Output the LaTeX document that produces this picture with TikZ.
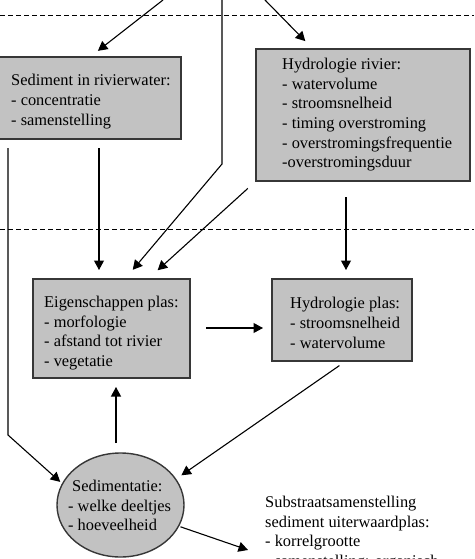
\documentclass[tikz,border=0pt]{standalone}
\usepackage{fontspec}
\setmainfont{Liberation Serif}
\usetikzlibrary{arrows.meta,calc,shapes.geometric}
\definecolor{boxfill}{RGB}{194,194,194}
\definecolor{boxline}{RGB}{55,55,55}
\tikzset{
  box/.style={draw=boxline,line width=1.4pt,fill=boxfill,inner sep=0pt,outer sep=0pt,anchor=north west},
  txt/.style={align=left,inner sep=0pt,anchor=west,font=\fontsize{16.4}{19.7}\selectfont},
  arr/.style={line width=1.1pt,-{Triangle[length=9.5pt,width=10pt]}},
  sep/.style={line width=1pt,dash pattern=on 5pt off 3pt},
}
\begin{document}
\begin{tikzpicture}[x=1pt,y=-1pt]
\useasboundingbox (0,0) rectangle (474,559);
% separators
\draw[sep] (0,16) -- (474,16);
\draw[sep] (0,229) -- (474,229);
% boxes
\node[box,minimum width=182pt,minimum height=82pt] (sed) at (-1,57) {};
\node[txt] (sedT) at ($(sed.north west)+(12,44.7)$) {Sediment in rivierwater:\\- concentratie\\- samenstelling};
\node[box,minimum width=214pt,minimum height=132pt] (hr) at (256,49) {};
\node[txt] (hrT) at ($(hr.north west)+(26,65.7)$) {Hydrologie rivier:\\- watervolume\\- stroomsnelheid\\- timing overstroming\\- overstromingsfrequentie\\-overstromingsduur};
\node[box,minimum width=157pt,minimum height=99pt] (eig) at (33,279) {};
\node[txt] (eigT) at ($(eig.north west)+(11,54)$) {Eigenschappen plas:\\- morfologie\\- afstand tot rivier\\- vegetatie};
\node[box,minimum width=140pt,minimum height=82pt] (hp) at (272,279) {};
\node[txt] (hpT) at ($(hp.north west)+(18,44)$) {Hydrologie plas:\\- stroomsnelheid\\- watervolume};
\node[draw=boxline,line width=1.4pt,fill=boxfill,ellipse,minimum width=127pt,minimum height=104pt,inner sep=0pt,outer sep=0pt] (sedim) at (120.5,505) {};
\node[txt] (sedimT) at (68,505.5) {\hspace{4pt}Sedimentatie:\\- welke deeltjes\\- hoeveelheid};
\node[txt] (sub) at (265,533) {Substraatsamenstelling\\sediment uiterwaardplas:\\- korrelgrootte\\- samenstelling: organisch};
% free ends and bends
\coordinate (t1) at (163,0);
\coordinate (t2) at (265,0);
\coordinate (t3) at (222,0);
\coordinate (b3) at (222,164);
\coordinate (bendL) at (8,435);
\coordinate (subin) at ($(sub.west)+(-17,17)$);
% connectors
\draw[arr,shorten >=10pt] (t1) -- (sed.north);
\draw[arr,shorten >=11pt] (t2) -- ($(hr.north west)+(57,0)$);
\draw[arr,shorten >=12pt] (t3) -- (b3) -- ($(eig.north west)+(92,0)$);
\draw[arr,shorten <=11pt,shorten >=13pt] (hr.south west) -- ($(eig.north west)+(115,0)$);
\draw[arr,shorten <=9pt,shorten >=9pt] ($(sed.south west)+(100,0)$) -- ($(eig.north west)+(66,0)$);
\draw[arr,shorten <=16pt,shorten >=9pt] ($(hr.south west)+(90,0)$) -- ($(hp.north west)+(74,0)$);
\draw[arr,shorten <=16pt,shorten >=9pt] ($(eig.north east)+(0,49)$) -- ($(hp.north west)+(0,49)$);
\draw[arr,shorten >=3pt] ($(sed.south west)+(9,9)$) -- (bendL) -- (sedim.160);
\draw[arr,shorten <=10pt,shorten >=9pt] ($(sedim.north)+(-4.5,0)$) -- ($(eig.south west)+(83,0)$);
\draw[arr,shorten <=8pt,shorten >=7pt] ($(hp.south west)+(74,0)$) -- (sedim.25);
\draw[arr,shorten <=2pt] (sedim.-20) -- (subin);
\end{tikzpicture}
\end{document}
